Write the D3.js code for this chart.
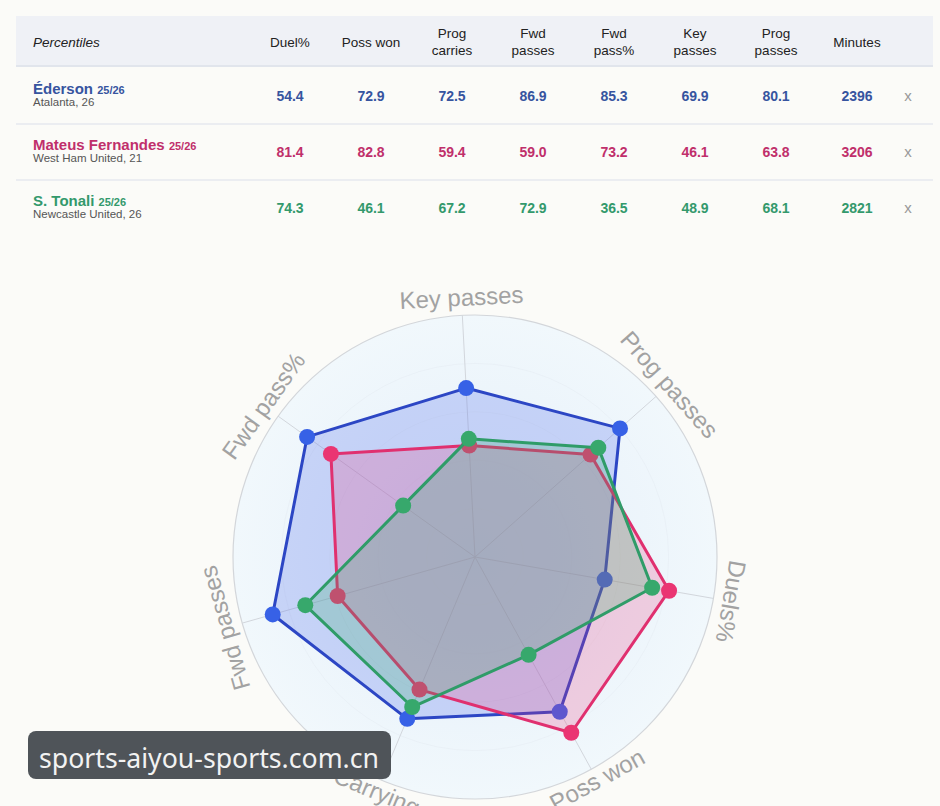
<!DOCTYPE html>
<html>
<head>
<meta charset="utf-8">
<script src="https://cdn.jsdelivr.net/npm/d3@7"></script>
<style>
  body { margin: 0; background: #fbfbf8; }
  svg { display: block; font-family: "Liberation Sans", Arial, sans-serif; }
</style>
</head>
<body>
<svg width="940" height="806"></svg>
<script>
// table columns (header lines) and radar axes
const columns = [['Duel%'], ['Poss won'], ['Prog', 'carries'], ['Fwd', 'passes'], ['Fwd', 'pass%'], ['Key', 'passes'], ['Prog', 'passes'], ['Minutes']];
const axes = ['Key passes', 'Prog passes', 'Duels%', 'Poss won', 'Carrying', 'Fwd passes', 'Fwd pass%'];

const players = ['Éderson', 'Mateus Fernandes', 'S. Tonali'];
const clubs = ['Atalanta, 26', 'West Ham United, 21', 'Newcastle United, 26'];
const season = '25/26';

// table order: Duel%, Poss won, Prog carries, Fwd passes, Fwd pass%, Key passes, Prog passes
const edersonVals = [54.4, 72.9, 72.5, 86.9, 85.3, 69.9, 80.1];
const mateusVals = [81.4, 82.8, 59.4, 59.0, 73.2, 46.1, 63.8];
const tonaliVals = [74.3, 46.1, 67.2, 72.9, 36.5, 48.9, 68.1];
const minutes = [2396, 3206, 2821];

const textColors = ['#36549f', '#c02f6b', '#33996c'];
const lineColors = ['#2c46c4', '#e0306f', '#2f9c68'];
const dotColors = ['#3761e6', '#ea3572', '#37a86c'];
const fillColors = ['rgba(70,100,235,0.24)', 'rgba(235,55,125,0.22)', 'rgba(55,170,105,0.24)'];

// radar axis -> table column index
const axisToCol = [5, 6, 0, 1, 2, 3, 4];

const svg = d3.select('svg');
const allVals = [edersonVals, mateusVals, tonaliVals];

// ---------- table ----------
const colX = d3.scalePoint().domain(d3.range(columns.length)).range([290, 857]);
const rowY = d3.scalePoint().domain(d3.range(players.length)).range([96, 208]);

svg.append('rect')
    .attr('x', 16).attr('y', 16)
    .attr('width', 917).attr('height', 49)
    .attr('fill', '#eff1f6');
svg.append('line')
    .attr('x1', 16).attr('x2', 933).attr('y1', 66).attr('y2', 66)
    .attr('stroke', '#e1e5ec').attr('stroke-width', 2);

svg.append('text')
    .attr('x', 33).attr('y', 47)
    .attr('font-size', 13.5).attr('font-style', 'italic')
    .attr('fill', '#222')
    .text('Percentiles');

columns.forEach((lines, i) => {
    const t = svg.append('text')
        .attr('text-anchor', 'middle')
        .attr('font-size', 13.5)
        .attr('fill', '#222');
    if (lines.length === 1) {
        t.append('tspan').attr('x', colX(i)).attr('y', 47).text(lines[0]);
    } else {
        t.append('tspan').attr('x', colX(i)).attr('y', 38).text(lines[0]);
        t.append('tspan').attr('x', colX(i)).attr('y', 55).text(lines[1]);
    }
});

[124, 180].forEach((y) => {
    svg.append('line')
        .attr('x1', 16).attr('x2', 933).attr('y1', y).attr('y2', y)
        .attr('stroke', '#e6e9ef').attr('stroke-width', 1.5);
});

players.forEach((name, p) => {
    const y = rowY(p);
    const nt = svg.append('text')
        .attr('x', 33).attr('y', y - 2)
        .attr('fill', textColors[p])
        .attr('font-weight', 'bold');
    nt.append('tspan').attr('font-size', 15).text(name + ' ');
    nt.append('tspan').attr('font-size', 11).text(season);

    svg.append('text')
        .attr('x', 33).attr('y', y + 10)
        .attr('font-size', 11.5)
        .attr('fill', '#555')
        .text(clubs[p]);

    const row = allVals[p].map((v) => v.toFixed(1)).concat([minutes[p]]);
    svg.selectAll(null)
        .data(row)
        .enter()
        .append('text')
        .attr('x', (d, i) => colX(i))
        .attr('y', y + 5)
        .attr('text-anchor', 'middle')
        .attr('font-size', 14)
        .attr('font-weight', 'bold')
        .attr('fill', textColors[p])
        .text((d) => d);

    svg.append('text')
        .attr('x', 908).attr('y', y + 5)
        .attr('text-anchor', 'middle')
        .attr('font-size', 15)
        .attr('fill', '#999')
        .text('x');
});

// ---------- radar ----------
const cx = 475, cy = 557, R = 242;
const rot = -3 * Math.PI / 180;

const rScale = d3.scaleLinear().domain([0, 100]).range([0, R]);
const aScale = d3.scaleLinear().domain([0, axes.length]).range([rot, rot + 2 * Math.PI]);

const defs = svg.append('defs');
const grad = defs.append('radialGradient').attr('id', 'polarBg');
grad.append('stop').attr('offset', '0%').attr('stop-color', '#e3eef9');
grad.append('stop').attr('offset', '100%').attr('stop-color', '#f1f8fc');

const g = svg.append('g').attr('transform', `translate(${cx}, ${cy})`);

g.append('circle')
    .attr('r', R)
    .attr('fill', 'url(#polarBg)')
    .attr('stroke', '#d3d6da')
    .attr('stroke-width', 1.2);

// very faint rings
[20, 40, 60, 80].forEach((v) => {
    g.append('circle')
        .attr('r', rScale(v))
        .attr('fill', 'none')
        .attr('stroke', '#e6edf4')
        .attr('stroke-width', 0.6);
});

g.selectAll('.spoke')
    .data(axes)
    .enter()
    .append('line')
    .attr('class', 'spoke')
    .attr('x1', 0).attr('y1', 0)
    .attr('x2', (d, i) => R * Math.sin(aScale(i)))
    .attr('y2', (d, i) => -R * Math.cos(aScale(i)))
    .attr('stroke', '#d2d6dc')
    .attr('stroke-width', 1);

const radarLine = d3.lineRadial()
    .angle((d, i) => aScale(i))
    .radius((d) => rScale(d))
    .curve(d3.curveLinearClosed);

allVals.forEach((vals, p) => {
    const axisVals = axisToCol.map((c) => vals[c]);
    g.append('path')
        .attr('d', radarLine(axisVals))
        .attr('fill', fillColors[p])
        .attr('stroke', lineColors[p])
        .attr('stroke-width', 3)
        .attr('stroke-linejoin', 'round');
    g.selectAll(null)
        .data(axisVals)
        .enter()
        .append('circle')
        .attr('cx', (d, i) => rScale(d) * Math.sin(aScale(i)))
        .attr('cy', (d, i) => -rScale(d) * Math.cos(aScale(i)))
        .attr('r', 8)
        .attr('fill', dotColors[p]);
});

// axis labels, tangent to the circle
axes.forEach((name, i) => {
    const a = aScale(i);
    let deg = a * 180 / Math.PI;
    const flip = Math.cos(a) < -0.5;
    const off = flip ? 12 : 18;
    if (flip) deg -= 180;
    const x = (R + off) * Math.sin(a);
    const y = -(R + off) * Math.cos(a);
    g.append('text')
        .attr('transform', `translate(${x}, ${y}) rotate(${deg})`)
        .attr('text-anchor', 'middle')
        .attr('dominant-baseline', 'central')
        .attr('font-size', 24)
        .attr('fill', '#a2a2a2')
        .text(name);
});

// ---------- watermark ----------
svg.append('rect')
    .attr('x', 28).attr('y', 731)
    .attr('width', 363).attr('height', 48)
    .attr('rx', 8)
    .attr('fill', '#4f5459');
svg.append('text')
    .attr('x', 39).attr('y', 768)
    .attr('font-family', '"Noto Sans", "Open Sans", sans-serif')
    .attr('font-size', 27)
    .attr('textLength', 340)
    .attr('lengthAdjust', 'spacingAndGlyphs')
    .attr('fill', '#f2f2f2')
    .text('sports-aiyou-sports.com.cn');
</script>
</body>
</html>
